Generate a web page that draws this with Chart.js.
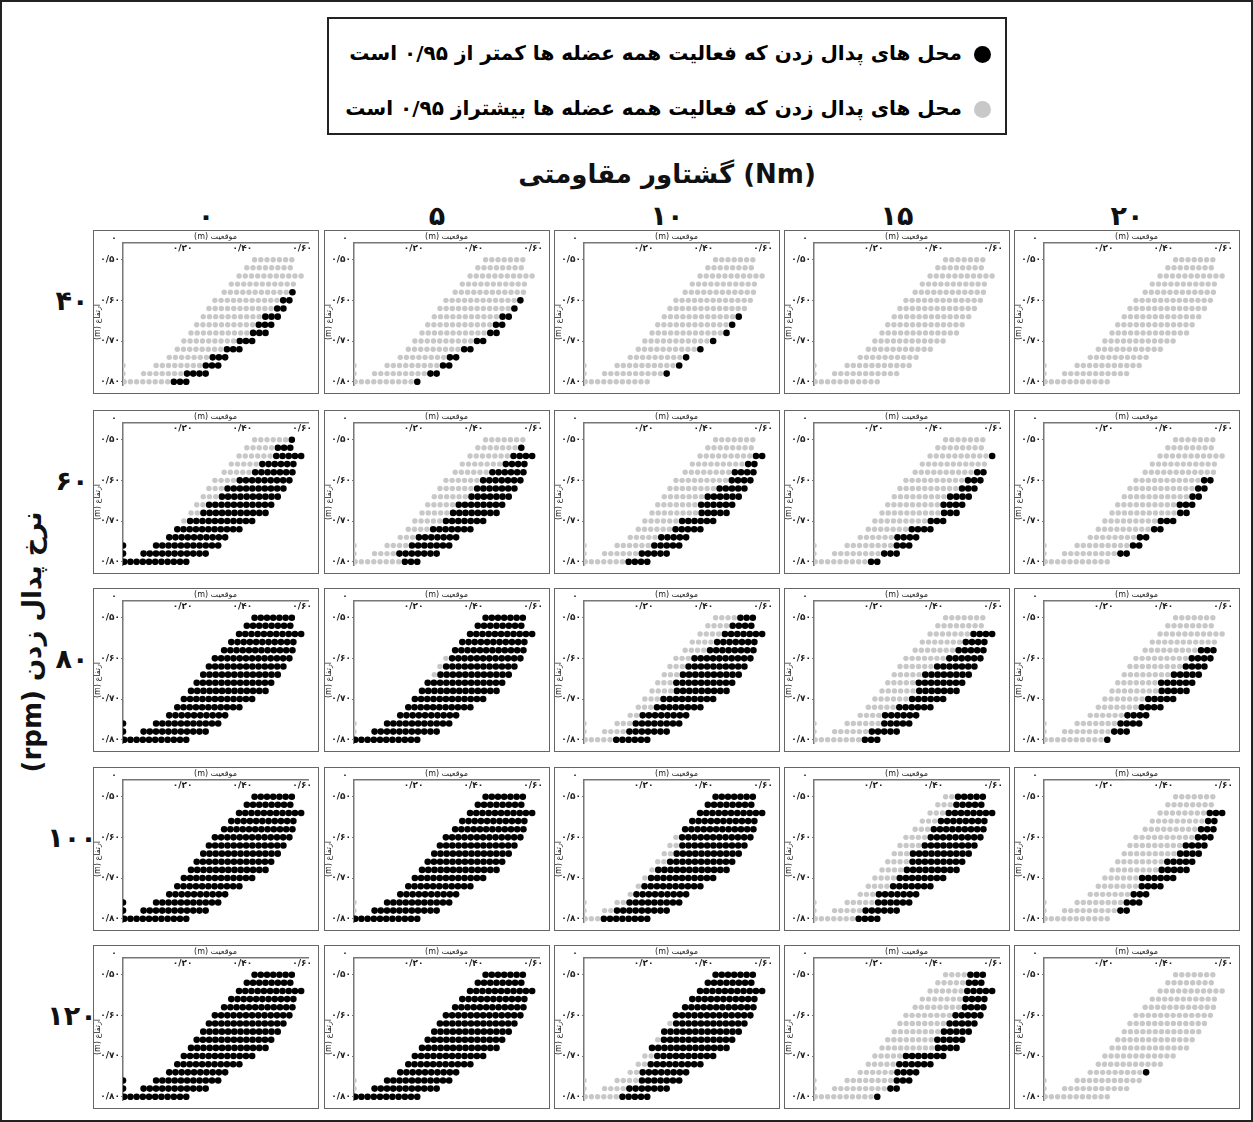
<!DOCTYPE html>
<html>
<head>
<meta charset="utf-8">
<title>Pedal positions</title>
<style>
    body { margin: 0; background: #fff; font-family: "DejaVu Sans", sans-serif; }
    #page { position: relative; width: 1253px; height: 1122px; box-sizing: border-box; border: 2px solid #222; overflow: hidden; }
    .abs { position: absolute; transform: translate(-50%, -50%); white-space: nowrap; font-weight: bold; color: #111; }
    .legend { position: absolute; left: 325px; top: 15px; width: 680px; height: 118px; border: 2px solid #222; box-sizing: border-box; }
    .legend .item { position: absolute; right: 14px; direction: rtl; font-weight: bold; font-size: 20px; white-space: nowrap; transform: translateY(-50%); }
    .legend .dot { display: inline-block; width: 17px; height: 17px; border-radius: 50%; margin-left: 12px; vertical-align: middle; }
    .panel { position: absolute; width: 226px; height: 164px; border: 1.5px solid #666; box-sizing: border-box; }
    .panel canvas { display: block; }
</style>
</head>
<body>
<div id="page">
    <div class="legend">
        <div class="item" style="top:34px"><span class="dot" style="background:#000"></span>محل های پدال زدن که فعالیت همه عضله ها کمتر از ۰/۹۵ است</div>
        <div class="item" style="top:89px"><span class="dot" style="background:#c8c8c8"></span>محل های پدال زدن که فعالیت همه عضله ها بیشتراز ۰/۹۵ است</div>
    </div>
    <div class="abs" style="left:665px; top:172px; font-size:26px">گشتاور مقاومتی (Nm)</div>
    <div class="abs" style="left:30px; top:640px; font-size:26px; transform: translate(-50%, -50%) rotate(-90deg); direction: rtl">نرخ پدال زدن (rpm)</div>
</div>

<script src="https://cdn.jsdelivr.net/npm/chart.js"></script>
<script>
    // rows of pedal positions (workspace), top row 0.50 to bottom row 0.80
    const rowY = [0.50, 0.52, 0.54, 0.56, 0.58, 0.60, 0.62, 0.64, 0.66, 0.68, 0.70, 0.72, 0.74, 0.76, 0.78, 0.80];
    const rowStart = [0.441, 0.415, 0.389, 0.363, 0.339, 0.308, 0.288, 0.269, 0.247, 0.228, 0.204, 0.182, 0.155, 0.111, 0.069, 0.004];
    const rowCount = [7, 8, 11, 11, 12, 13, 13, 13, 13, 13, 12, 11, 10, 11, 11, 11];
    const dotStep = 0.0208;
    const edgeY = [0.76, 0.78];

    const torqueLabels = ['۰', '۵', '۱۰', '۱۵', '۲۰'];
    const rpmLabels = ['۴۰', '۶۰', '۸۰', '۱۰۰', '۱۲۰'];
    const xTicks = [0, 0.2, 0.4, 0.6];
    const yTicks = [0.5, 0.6, 0.7, 0.8];
    const xTitle = 'موقعیت (m)';
    const yTitle = 'ارتفاع (m)';

    // number of black dots at the right end of each row, one array per torque
    const black40 = [
        [0, 0, 0, 0, 1, 2, 2, 3, 3, 3, 3, 3, 3, 3, 4, 3],
        [0, 0, 0, 0, 0, 1, 1, 2, 2, 2, 2, 2, 2, 2, 2, 1],
        [0, 0, 0, 0, 0, 0, 0, 1, 1, 1, 1, 1, 1, 1, 1, 0],
        [0, 0, 0, 0, 0, 0, 0, 0, 0, 0, 0, 0, 0, 0, 0, 0],
        [0, 0, 0, 0, 0, 0, 0, 0, 0, 0, 0, 0, 0, 0, 0, 0]
    ];
    const black60 = [
        [1, 3, 5, 6, 7, 9, 10, 10, 11, 11, 11, 11, 10, 11, 11, 11],
        [0, 1, 4, 4, 6, 7, 7, 7, 8, 8, 7, 7, 7, 7, 7, 3],
        [0, 0, 2, 2, 4, 4, 5, 6, 6, 5, 6, 5, 5, 5, 5, 4],
        [0, 0, 1, 0, 2, 3, 3, 4, 4, 3, 3, 4, 4, 3, 3, 2],
        [0, 0, 0, 0, 0, 2, 2, 2, 3, 2, 3, 2, 2, 2, 2, 0]
    ];
    const black80 = [
        [13, 13, 13, 13, 13, 13, 13, 13, 13, 13, 13, 13, 13, 13, 13, 13],
        [13, 13, 13, 13, 13, 12, 12, 12, 13, 13, 13, 13, 13, 13, 13, 13],
        [3, 4, 7, 7, 8, 10, 10, 10, 10, 9, 9, 8, 8, 8, 7, 6],
        [0, 0, 4, 4, 5, 6, 7, 8, 8, 7, 6, 6, 6, 5, 5, 3],
        [0, 0, 0, 0, 3, 4, 4, 5, 6, 5, 5, 4, 4, 4, 3, 1]
    ];
    const black100 = [
        [13, 13, 13, 13, 13, 13, 13, 13, 13, 13, 13, 13, 13, 13, 13, 13],
        [13, 13, 13, 13, 13, 13, 13, 13, 13, 13, 13, 13, 13, 13, 13, 13],
        [7, 8, 11, 11, 12, 12, 11, 11, 11, 12, 11, 10, 9, 9, 9, 8],
        [5, 5, 8, 8, 9, 9, 9, 10, 9, 9, 8, 7, 7, 6, 6, 4],
        [0, 0, 3, 2, 3, 3, 4, 4, 5, 5, 6, 4, 3, 3, 2, 0]
    ];
    const black120 = [
        [13, 13, 13, 13, 13, 13, 13, 13, 13, 13, 13, 13, 13, 13, 13, 13],
        [13, 13, 13, 13, 13, 13, 13, 13, 13, 13, 13, 13, 13, 13, 13, 13],
        [7, 8, 11, 11, 12, 13, 12, 13, 12, 13, 10, 9, 8, 7, 7, 5],
        [3, 3, 5, 4, 4, 5, 5, 5, 5, 4, 7, 6, 4, 3, 2, 1],
        [0, 0, 0, 0, 0, 0, 0, 0, 0, 0, 0, 0, 1, 0, 0, 0]
    ];
    const blackByRpm = [black40, black60, black80, black100, black120];
    // the two dots on the x = 0 line are black only in the zero torque column
    const edgeBlackCol0 = [false, true, true, true, true];

    const colLeft = [91, 322, 552, 782, 1012];
    const rowTop = [228, 408, 586, 765, 943];

    function fa(v) {
        const s = v === 0 ? '0' : v.toFixed(2).replace('.', '/');
        return s.replace(/[0-9]/g, d => '۰۱۲۳۴۵۶۷۸۹'[d]);
    }

    function panelPoints(counts, edgeBlack) {
        const grey = [], black = [];
        for (let r = 0; r < rowY.length; r++) {
            const n = rowCount[r];
            const k = Math.min(counts[r], n);
            for (let i = 0; i < n; i++) {
                const p = { x: rowStart[r] + i * dotStep, y: rowY[r] };
                (i >= n - k ? black : grey).push(p);
            }
        }
        edgeY.forEach(y => (edgeBlack ? black : grey).push({ x: 0, y: y }));
        return { grey, black };
    }

    const axisText = {
        id: 'axisText',
        afterDraw(chart) {
            const { ctx, chartArea: a, scales: { x } } = chart;
            ctx.save();
            ctx.fillStyle = '#222';
            ctx.textAlign = 'center';
            ctx.font = 'bold 9px "DejaVu Sans"';
            ctx.textBaseline = 'top';
            xTicks.forEach(v => {
                if (v > 0) ctx.fillText(fa(v), x.getPixelForValue(v), a.top + 1);
            });
            ctx.textBaseline = 'middle';
            ctx.fillText(fa(0), a.left - 9, a.top - 4);
            ctx.direction = 'rtl';
            ctx.font = '8px "DejaVu Sans"';
            ctx.textBaseline = 'bottom';
            ctx.fillText(xTitle, (a.left + a.right) / 2, a.top - 2);
            ctx.translate(a.left - 25, (a.top + a.bottom) / 2 + 8);
            ctx.rotate(-Math.PI / 2);
            ctx.textBaseline = 'middle';
            ctx.fillText(yTitle, 0, 0);
            ctx.restore();
        }
    };

    const page = document.getElementById('page');

    torqueLabels.forEach((t, c) => {
        const d = document.createElement('div');
        d.className = 'abs';
        d.style.cssText = `left:${colLeft[c] + 113}px; top:213px; font-size:27px`;
        d.textContent = t;
        page.appendChild(d);
    });
    rpmLabels.forEach((t, r) => {
        const d = document.createElement('div');
        d.className = 'abs';
        d.style.cssText = `left:70px; top:${rowTop[r] + 70}px; font-size:27px`;
        d.textContent = t;
        page.appendChild(d);
    });

    rpmLabels.forEach((rpm, r) => {
        torqueLabels.forEach((tq, c) => {
            const box = document.createElement('div');
            box.className = 'panel';
            box.style.left = colLeft[c] + 'px';
            box.style.top = rowTop[r] + 'px';
            const cv = document.createElement('canvas');
            cv.width = 223;
            cv.height = 161;
            box.appendChild(cv);
            page.appendChild(box);

            const pts = panelPoints(blackByRpm[r][c], c === 0 && edgeBlackCol0[r]);
            new Chart(cv.getContext('2d'), {
                type: 'scatter',
                data: {
                    datasets: [{
                        data: pts.grey,
                        backgroundColor: '#c8c8c8',
                        borderWidth: 0,
                        pointRadius: 2.7
                    }, {
                        data: pts.black,
                        backgroundColor: '#000',
                        borderWidth: 0,
                        pointRadius: 3.3
                    }]
                },
                options: {
                    responsive: false,
                    animation: false,
                    layout: { padding: { right: 9, bottom: 7 } },
                    plugins: { legend: { display: false }, tooltip: { enabled: false } },
                    scales: {
                        x: {
                            type: 'linear',
                            position: 'top',
                            min: 0,
                            max: 0.62,
                            ticks: { display: false },
                            grid: { display: false },
                            border: { display: true, color: '#777', width: 1.5 },
                            afterFit: s => { s.height = 12; }
                        },
                        y: {
                            type: 'linear',
                            reverse: true,
                            min: 0.459,
                            max: 0.808,
                            afterBuildTicks: s => { s.ticks = yTicks.map(v => ({ value: v })); },
                            ticks: {
                                padding: 1,
                                color: '#222',
                                font: { family: 'DejaVu Sans', size: 9, weight: 'bold' },
                                callback: v => fa(v)
                            },
                            grid: { display: true, drawOnChartArea: false, tickLength: 2, color: '#777' },
                            border: { display: true, color: '#777', width: 1.5 },
                            afterFit: s => { s.width = 29; }
                        }
                    }
                },
                plugins: [axisText]
            });
        });
    });
</script>
</body>
</html>
